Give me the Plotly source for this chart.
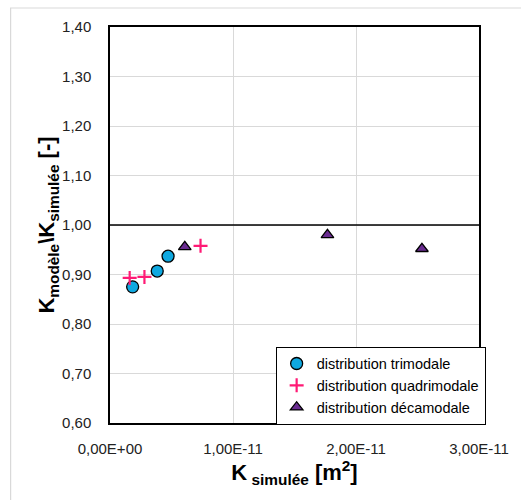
import plotly.graph_objects as go

# Data
tri_x = [1.84e-12, 3.84e-12, 4.72e-12]
tri_y = [0.875, 0.907, 0.937]
quad_x = [1.6e-12, 2.8e-12, 7.36e-12]
quad_y = [0.893, 0.895, 0.958]
deca_x = [6.08e-12, 1.768e-11, 2.536e-11]
deca_y = [0.956, 0.980, 0.952]

x_tickvals = [0, 1e-11, 2e-11, 3e-11]
x_ticktext = ["0,00E+00", "1,00E-11", "2,00E-11", "3,00E-11"]
y_tickvals = [0.6, 0.7, 0.8, 0.9, 1.0, 1.1, 1.2, 1.3, 1.4]
y_ticktext = ["0,60", "0,70", "0,80", "0,90", "1,00", "1,10", "1,20", "1,30", "1,40"]

W, H = 521, 500
L, R, T, B = 110, 485, 27, 423
FONT = "Liberation Sans, Arial, sans-serif"

fig = go.Figure()
fig.add_trace(go.Scatter(
    x=tri_x, y=tri_y, mode="markers", name="distribution trimodale",
    marker=dict(symbol="circle", size=12, color="#0FA8E0",
                line=dict(color="black", width=1.3))))
fig.add_trace(go.Scatter(
    x=quad_x, y=quad_y, mode="markers", name="distribution quadrimodale",
    marker=dict(symbol="cross-thin", size=10, color="#FF1A75",
                line=dict(color="#FF1A75", width=2.2))))
fig.add_trace(go.Scatter(
    x=deca_x, y=deca_y, mode="markers", name="distribution décamodale",
    marker=dict(symbol="triangle-up", size=11, color="#6A2C91",
                line=dict(color="black", width=1.3))))

def px2paper_x(px):
    return (px - L) / (R - L)

def px2paper_y(py):
    return (B - py) / (B - T)

shapes = [
    dict(type="rect", xref="paper", yref="paper",
         x0=px2paper_x(9), x1=px2paper_x(540), y0=px2paper_y(520), y1=px2paper_y(8),
         line=dict(color="#D9D9D9", width=1.2), fillcolor="rgba(0,0,0,0)", layer="below"),
    dict(type="line", xref="paper", yref="y", x0=0, x1=1, y0=1.0, y1=1.0,
         line=dict(color="black", width=1.5)),
]

fig.update_layout(
    width=W, height=H,
    margin=dict(l=L, r=W - R, t=T, b=H - B),
    paper_bgcolor="white", plot_bgcolor="white",
    font=dict(family=FONT, size=15, color="#222"),
    showlegend=True,
    legend=dict(x=1.018, y=-0.004, xanchor="right", yanchor="bottom",
                bgcolor="white", bordercolor="black", borderwidth=1,
                font=dict(family=FONT, size=14.5, color="black"),
                itemwidth=30, tracegroupgap=0),
    shapes=shapes,
    xaxis=dict(range=[0, 3e-11], tickvals=x_tickvals, ticktext=x_ticktext,
               showgrid=True, gridcolor="#D9D9D9", gridwidth=1.3,
               showline=True, linecolor="black", linewidth=1.5, mirror=True,
               zeroline=False, ticks="", ticklabelstandoff=11,
               tickfont=dict(size=15, color="#222"),
               title=dict(text="<b>K<sub> simulée</sub> [m<sup>2</sup>]</b>",
                          font=dict(size=22, color="black"), standoff=2)),
    yaxis=dict(range=[0.6, 1.4], tickvals=y_tickvals, ticktext=y_ticktext,
               showgrid=True, gridcolor="#D9D9D9", gridwidth=1.3,
               showline=True, linecolor="black", linewidth=1.5, mirror=True,
               zeroline=False, ticks="", ticklabelstandoff=14,
               tickfont=dict(size=15, color="#222"),
               title=dict(text="<b>K<sub>modèle</sub>\\K<sub>simulée</sub> [-]</b>",
                          font=dict(size=22, color="black"), standoff=0)),
)

fig.write_html("out.html")
